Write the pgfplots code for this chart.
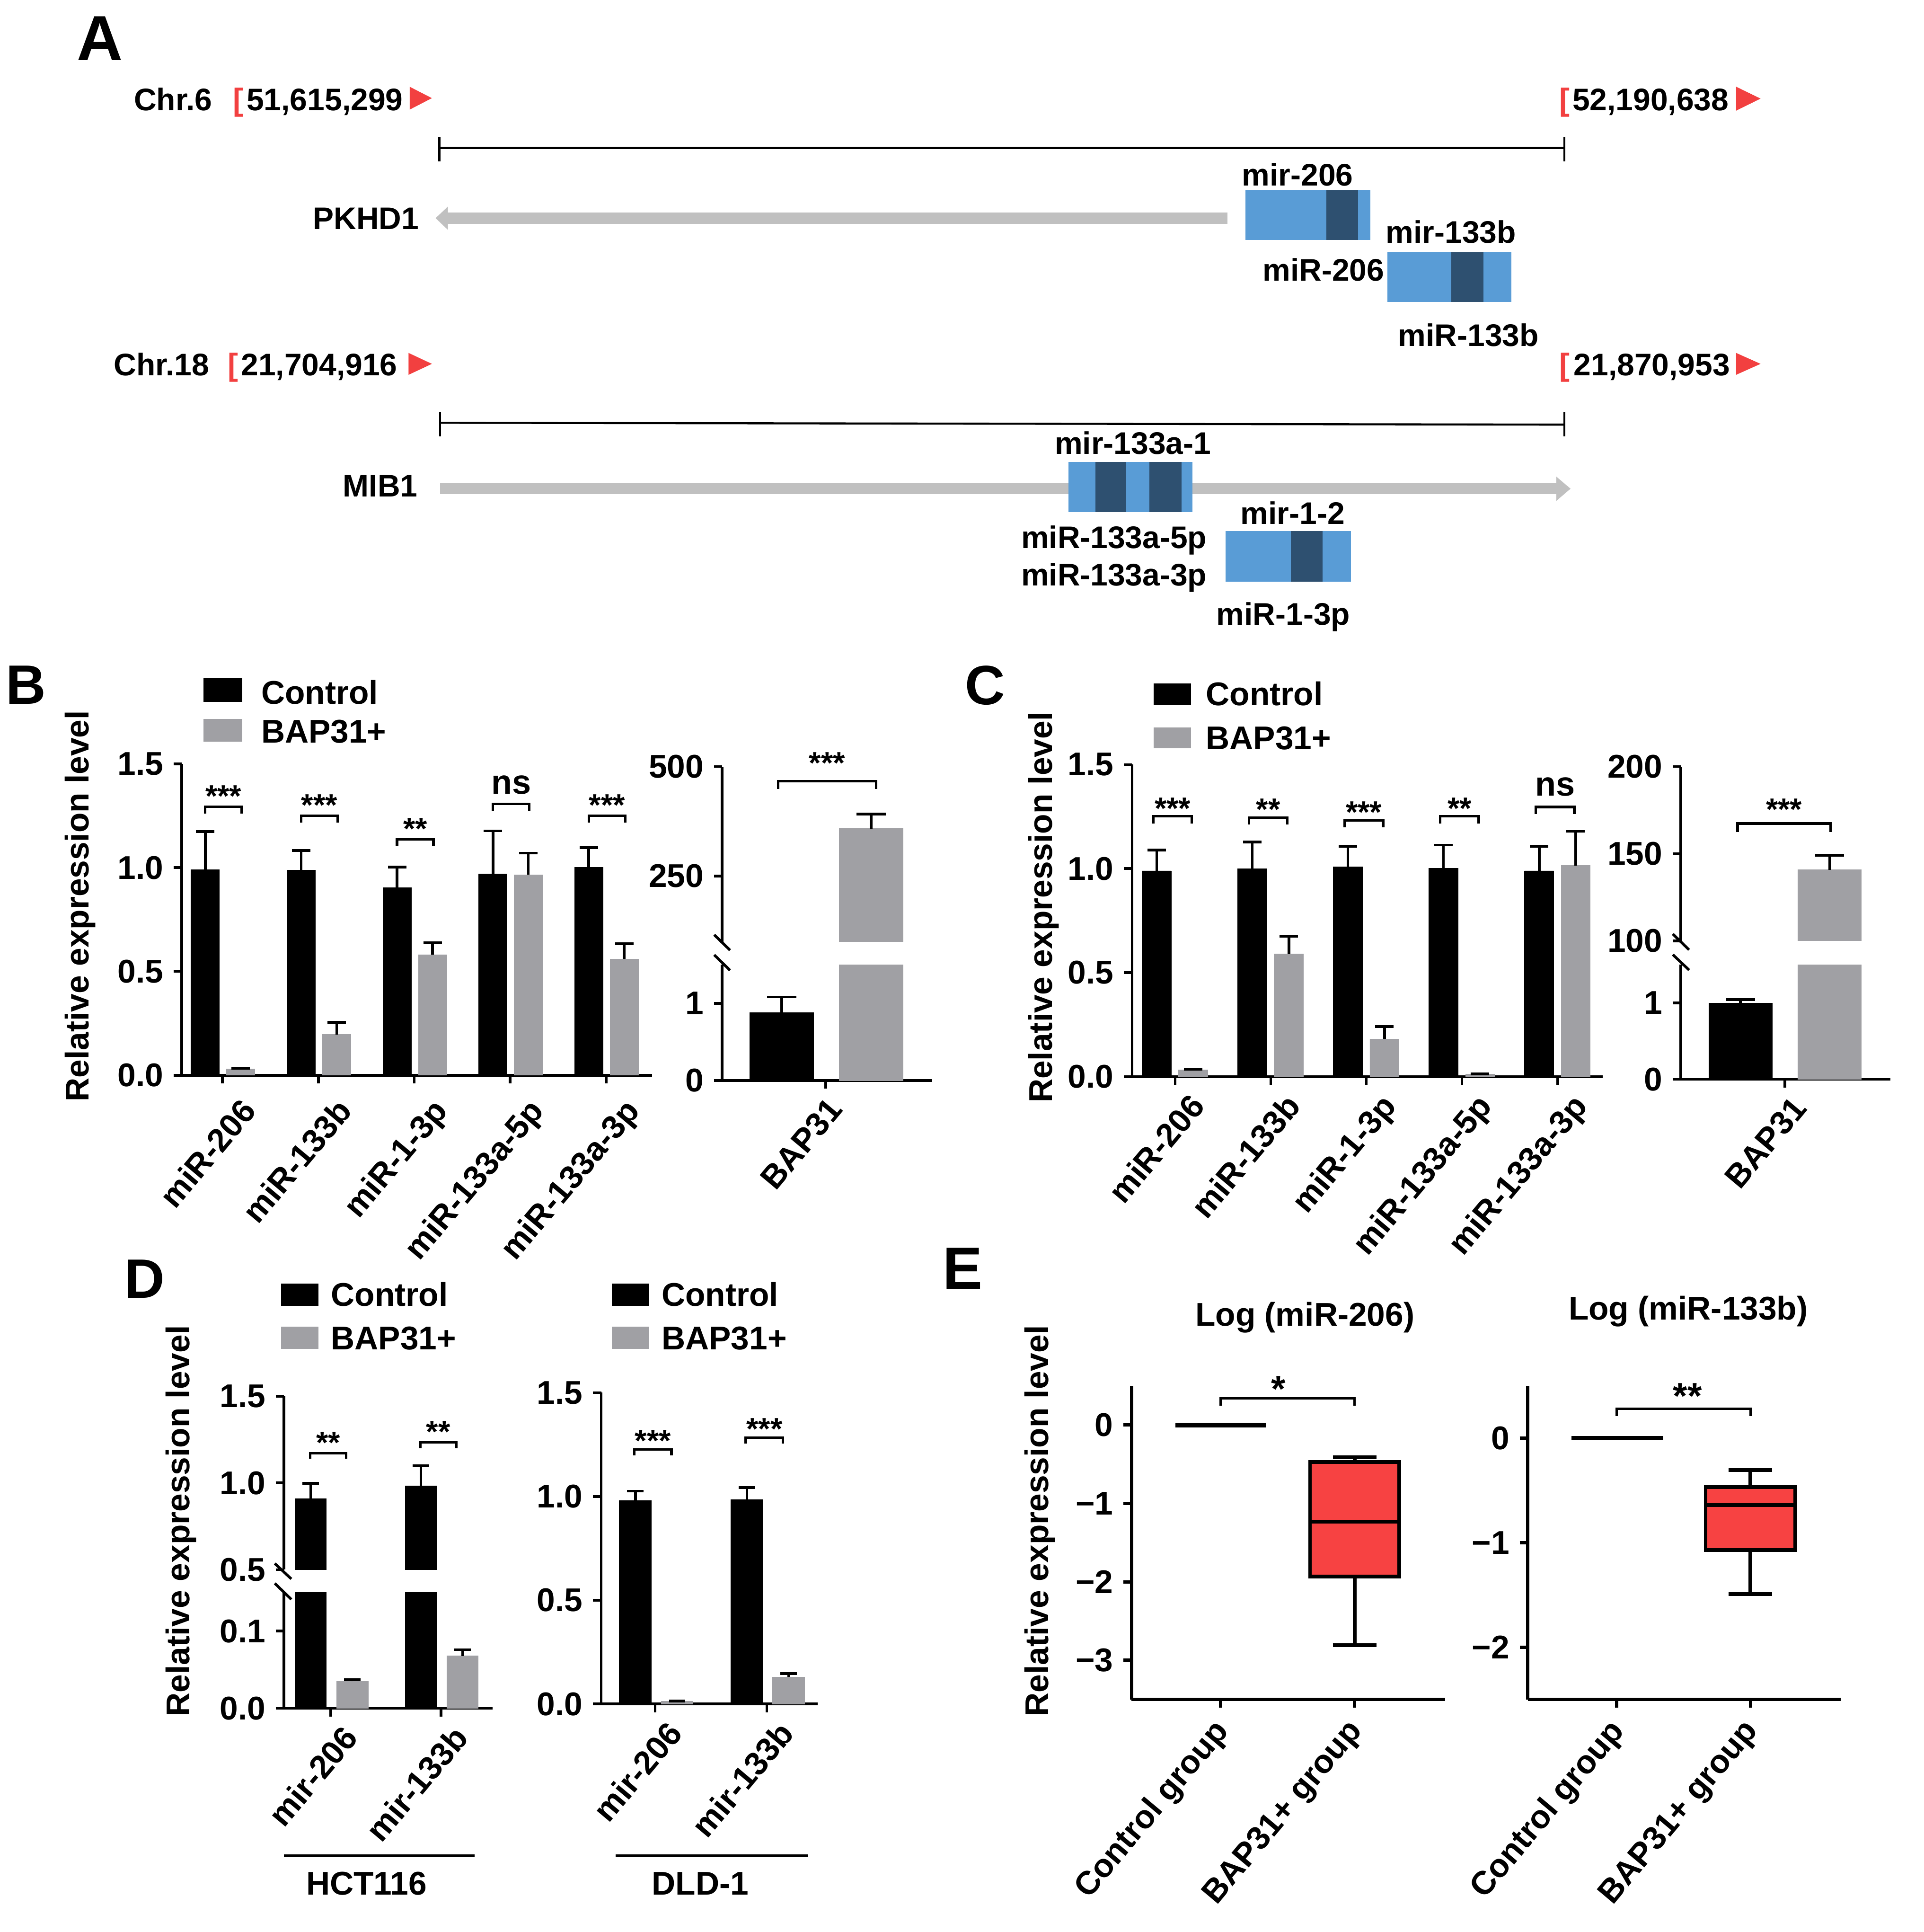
\documentclass[border=0pt]{standalone}
\usepackage{pgfplots}
\pgfplotsset{compat=1.18}
\usepgfplotslibrary{statistics}
\usepackage{fontspec}
\setmainfont{Liberation Sans}
\definecolor{bgray}{RGB}{160,160,164}
\definecolor{lblue}{RGB}{89,156,214}
\definecolor{dblue}{RGB}{46,80,112}
\definecolor{mred}{RGB}{242,64,64}
\definecolor{agray}{RGB}{192,192,192}
\definecolor{boxred}{RGB}{247,66,66}
\newcommand\fA{\fontsize{8}{9.6}\selectfont\bfseries}
\newcommand\fG{\fontsize{7.6}{9}\selectfont\bfseries}
\newcommand\fX{\fontsize{8}{9.6}\selectfont\bfseries}
\newcommand\fS{\fontsize{7.5}{9}\selectfont\bfseries}
\newcommand\fE{\fontsize{9}{10}\selectfont\bfseries}
\newcommand\fL[1]{\fontsize{#1}{#1}\selectfont\bfseries}
\pgfplotsset{
 gp/.style={scale only axis, clip mode=individual,
   axis x line=bottom, axis y line=left,
   axis line style={-, line width=0.65pt, black},
   every outer x axis line/.append style={-}, every outer y axis line/.append style={-},
   every inner x axis line/.append style={-}, every inner y axis line/.append style={-},
   tick align=outside, major tick length=2pt,
   tick style={line width=0.65pt, black},
   yticklabel style={font=\fA, inner sep=1pt, xshift=-1.3pt},
   xticklabel style={font=\fX, inner sep=1pt},
   minor tick num=0},
 xrot/.style 2 args={xticklabel style={xshift=#1, yshift=#2, rotate=50, anchor=north east}},
 gpup/.style={gp, axis x line=none},
 bars/.style n args={4}{#1, fill=#1, draw=#1, line width=0.1pt, bar width=#2, bar shift=#3,
   error bars/.cd, y dir=plus, y explicit,
   error bar style={black, line width=0.65pt},
   error mark options={rotate=90, black, line width=0.65pt, mark size=#4}}
}
% bracket: x1 x2 y ytip xm text yshift
\newcommand\sig[7]{%
 \draw[line width=0.6pt] (axis cs:#1,#4) -- (axis cs:#1,#3) -- (axis cs:#2,#3) -- (axis cs:#2,#4);
 \node[anchor=base, inner sep=0pt, font=\fS, yshift=#7] at (axis cs:#5,#3) {#6};}
\newcommand\ext{\draw[line width=0.65pt] (rel axis cs:0,0) -- ++(-2.2pt,0);}
\begin{document}
\begin{tikzpicture}
\path[use as bounding box] (0,0) rectangle (468.3pt,-470.25pt);
% ---------------- background axis: panel A, letters, legends, labels
\begin{axis}[at={(0,0)}, anchor=north west, scale only axis, width=468.3pt, height=470.25pt,
  xmin=0, xmax=1561, ymin=0, ymax=1567.5, y dir=reverse, hide axis, clip=false]
% letters
\node[anchor=base west, inner sep=0, font=\fL{15.5}] at (61.7,49) {A};
\node[anchor=base west, inner sep=0, font=\fL{13.5}] at (4,571) {B};
\node[anchor=base west, inner sep=0, font=\fL{13.5}] at (782.5,571.5) {C};
\node[anchor=base west, inner sep=0, font=\fL{13.5}] at (100.5,1053) {D};
\node[anchor=base west, inner sep=0, font=\fL{14.5}] at (764.5,1045.7) {E};
% scale bars
\draw[line width=0.5pt] (356.5,120) -- (1269.5,120);
\draw[line width=0.5pt] (356.5,111.5) -- (356.5,131);
\draw[line width=0.5pt] (1269.5,111.5) -- (1269.5,131);
\draw[line width=0.5pt] (357,343) -- (1269.5,344.5);
\draw[line width=0.5pt] (357,334.5) -- (357,354);
\draw[line width=0.5pt] (1269.5,334.5) -- (1269.5,354);
% gene arrows
\fill[agray] (363,172.5) rectangle (996,181.5);
\fill[agray] (353.5,177) -- (363.5,167.5) -- (363.5,186.5) -- cycle;
\fill[agray] (357,392) rectangle (1263,401);
\fill[agray] (1274.5,396.5) -- (1263,386.7) -- (1263,406.3) -- cycle;
% miRNA boxes
\fill[lblue] (1010.5,154.3) rectangle (1112,194.8);
\fill[dblue] (1076.3,154.3) rectangle (1102.2,194.8);
\fill[lblue] (1126,204.7) rectangle (1226.6,244.8);
\fill[dblue] (1177.8,204.7) rectangle (1203.7,244.8);
\fill[lblue] (867.2,374.8) rectangle (967.8,415.6);
\fill[dblue] (889.1,374.8) rectangle (914,415.6);
\fill[dblue] (932.9,374.8) rectangle (958.8,415.6);
\fill[lblue] (994.6,431) rectangle (1096.2,471.8);
\fill[dblue] (1047.4,431) rectangle (1073.3,471.8);
% red triangles
\fill[mred] (332.5,70.4) -- (350.5,79.6) -- (332.5,88.9) -- cycle;
\fill[mred] (1408.8,70.3) -- (1428.7,80) -- (1408.8,89.8) -- cycle;
\fill[mred] (331.5,286.3) -- (350.5,295.2) -- (331.5,304.1) -- cycle;
\fill[mred] (1408.8,286.3) -- (1428.7,295.2) -- (1408.8,304.1) -- cycle;
% panel A texts
\begin{scope}[every node/.style={inner sep=0pt, font=\fG}]
\node[anchor=base east] at (172.8,89.6) {Chr.6};
\node[anchor=base west, text=mred] at (188.6,89.6) {[};
\node[anchor=base west] at (199.5,89.6) {51,615,299};
\node[anchor=base west, text=mred] at (1264.6,89.6) {[};
\node[anchor=base west] at (1275.4,89.6) {52,190,638};
\node[anchor=base east] at (170.5,304.8) {Chr.18};
\node[anchor=base west, text=mred] at (184.1,304.8) {[};
\node[anchor=base west] at (195,304.8) {21,704,916};
\node[anchor=base west, text=mred] at (1264.6,304.8) {[};
\node[anchor=base west] at (1276.4,304.8) {21,870,953};
\node[anchor=base east] at (340.5,186) {PKHD1};
\node[anchor=base] at (1053,150.9) {mir-206};
\node[anchor=base west] at (1124,197.2) {mir-133b};
\node[anchor=base east] at (1124,228) {miR-206};
\node[anchor=base west] at (1134,281) {miR-133b};
\node[anchor=base east] at (339.5,402.9) {MIB1};
\node[anchor=base] at (919.4,368.6) {mir-133a-1};
\node[anchor=base] at (1049,425.2) {mir-1-2};
\node[anchor=base] at (904,445) {miR-133a-5p};
\node[anchor=base] at (904,475) {miR-133a-3p};
\node[anchor=base] at (1041.4,507) {miR-1-3p};
\end{scope}
\begin{scope}[every node/.style={inner sep=0pt, font=\fA}]
% legends
\node[anchor=base west] at (211.3,571) {Control};
\node[anchor=base west] at (211.3,602.8) {BAP31+};
\node[anchor=base west] at (978,572.5) {Control};
\node[anchor=base west] at (978,608.2) {BAP31+};
\node[anchor=base west] at (268,1059.8) {Control};
\node[anchor=base west] at (268,1095) {BAP31+};
\node[anchor=base west] at (536.3,1059.8) {Control};
\node[anchor=base west] at (536.3,1095) {BAP31+};
% y labels
\node[rotate=90] at (65,735) {Relative expression level};
\node[rotate=90] at (847,736) {Relative expression level};
\node[rotate=90] at (147,1234) {Relative expression level};
\node[rotate=90] at (844,1234) {Relative expression level};
% E titles
\node at (1059,1069) {Log (miR-206)};
\node at (1370,1064) {Log (miR-133b)};
% D groups
\node[anchor=base] at (297.4,1537.5) {HCT116};
\node[anchor=base] at (568.2,1537.5) {DLD-1};
\end{scope}
\fill[black] (165.3,550.3) rectangle (196.5,569.4);
\fill[bgray] (165.3,583.1) rectangle (196.5,601.8);
\fill[black] (936,554.4) rectangle (966.4,571.9);
\fill[bgray] (936,590.1) rectangle (966.4,607);
\fill[black] (228.1,1041.3) rectangle (258.6,1059.4);
\fill[bgray] (228.1,1076.3) rectangle (258.6,1094.5);
\fill[black] (496.5,1041.3) rectangle (527,1059.4);
\fill[bgray] (496.5,1076.3) rectangle (527,1094.5);
\draw[line width=0.6pt] (230.4,1505.5) -- (385.2,1505.5);
\draw[line width=0.6pt] (499.6,1505.5) -- (655.5,1505.5);
% break marks
\draw[line width=0.65pt] (579.6,758.4) -- (592.4,770.9);
\draw[line width=0.65pt] (579.6,774.7) -- (592.4,787.2);
\draw[line width=0.65pt] (1357.5,757.8) -- (1370.7,770.6);
\draw[line width=0.65pt] (1357.5,774.5) -- (1370.7,787);
\draw[line width=0.65pt] (223,1268.5) -- (236.4,1281);
\draw[line width=0.65pt] (223,1284.6) -- (236.4,1297.6);
\end{axis}
% ---------------- B left
\begin{axis}[gp, xrot={3.9pt}{-1.5pt}, ybar, at={(44.25pt,-261.72pt)}, anchor=south west, width=114.45pt, height=75.81pt,
  xmin=-0.4254, xmax=4.478, ymin=0, ymax=1.5, xtick={0,1,2,3,4},
  xticklabels={miR-206,miR-133b,miR-1-3p,miR-133a-5p,miR-133a-3p},
  ytick={0,0.5,1,1.5}, yticklabels={0.0,0.5,1.0,1.5}]
\addplot[bars={black}{0.296}{-0.18}{2.25pt}] coordinates {(0,0.990) +- (0,0.184) (1,0.987) +- (0,0.096) (2,0.904) +- (0,0.098) (3,0.970) +- (0,0.207) (4,1.002) +- (0,0.094)};
\addplot[bars={bgray}{0.296}{0.19}{2.25pt}] coordinates {(0,0.030) +- (0,0.004) (1,0.196) +- (0,0.059) (2,0.581) +- (0,0.057) (3,0.966) +- (0,0.104) (4,0.560) +- (0,0.074)};
\ext
\sig{-0.18}{0.2}{1.294}{1.26}{0.01}{***}{0pt}
\sig{0.82}{1.2}{1.250}{1.216}{1.01}{***}{0pt}
\sig{1.82}{2.2}{1.137}{1.103}{2.01}{**}{0pt}
\sig{2.82}{3.2}{1.307}{1.273}{3.01}{{\fontsize{8.3}{10}\selectfont ns}}{2.4pt}
\sig{3.82}{4.2}{1.250}{1.216}{4.01}{***}{0pt}
\end{axis}
% ---------------- B right (broken axis)
\begin{axis}[gpup, ybar, at={(175.8pt,-229.23pt)}, anchor=south west, width=51.12pt, height=42.66pt,
  xmin=-84.1, xmax=86.3, ymin=100, ymax=500, ytick={250,500}, yticklabels={250,500}]
\addplot[bars={bgray}{52}{36.8}{3.6pt}] coordinates {(0,358.5) +- (0,33.2)};
\sig{-38.6}{40.8}{466.8}{449}{1.1}{***}{1.8pt}
\end{axis}
\begin{axis}[gp, xrot={0pt}{0pt}, ybar, at={(175.8pt,-263.01pt)}, anchor=south west, width=51.12pt, height=28.2pt,
  xmin=-84.1, xmax=86.3, ymin=0, ymax=1.5, ytick={0,1}, yticklabels={0,1},
  xtick={0}, xticklabels={BAP31}]
\addplot[bars={black}{52}{-35.7}{3.6pt}] coordinates {(0,0.878) +- (0,0.205)};
\addplot[bars={bgray}{52}{36.8}{3.6pt}] coordinates {(0,358.5) +- (0,33.2)};
\ext
\end{axis}
% ---------------- C left
\begin{axis}[gp, xrot={3pt}{0pt}, ybar, at={(275.61pt,-262.05pt)}, anchor=south west, width=114.6pt, height=75.96pt,
  xmin=-0.45, xmax=4.473, ymin=0, ymax=1.5, xtick={0,1,2,3,4},
  xticklabels={miR-206,miR-133b,miR-1-3p,miR-133a-5p,miR-133a-3p},
  ytick={0,0.5,1,1.5}, yticklabels={0.0,0.5,1.0,1.5}]
\addplot[bars={black}{0.305}{-0.193}{2.25pt}] coordinates {(0,0.989) +- (0,0.100) (1,1.000) +- (0,0.128) (2,1.009) +- (0,0.099) (3,1.002) +- (0,0.111) (4,0.989) +- (0,0.119)};
\addplot[bars={bgray}{0.305}{0.189}{2.25pt}] coordinates {(0,0.032) +- (0,0.004) (1,0.589) +- (0,0.086) (2,0.181) +- (0,0.059) (3,0.011) +- (0,0.002) (4,1.015) +- (0,0.164)};
\ext
\sig{-0.228}{0.175}{1.251}{1.217}{-0.026}{***}{-0.6pt}
\sig{0.772}{1.175}{1.245}{1.211}{0.974}{**}{-0.6pt}
\sig{1.772}{2.175}{1.232}{1.198}{1.974}{***}{-0.6pt}
\sig{2.772}{3.175}{1.251}{1.217}{2.974}{**}{-0.6pt}
\sig{3.772}{4.175}{1.296}{1.262}{3.974}{{\fontsize{8.3}{10}\selectfont ns}}{2.7pt}
\end{axis}
% ---------------- C right (broken axis)
\begin{axis}[gpup, ybar, at={(409.2pt,-228.99pt)}, anchor=south west, width=51.06pt, height=42.42pt,
  xmin=-84.5, xmax=85.7, ymin=100, ymax=200, ytick={100,150,200}, yticklabels={100,150,200}]
\addplot[bars={bgray}{51.5}{36.2}{3.5pt}] coordinates {(0,140.7) +- (0,8.4)};
\sig{-38.5}{37}{167.3}{162.3}{-0.75}{***}{0.8pt}
\end{axis}
\begin{axis}[gp, xrot={1.2pt}{0pt}, ybar, at={(409.2pt,-262.71pt)}, anchor=south west, width=51.06pt, height=27.9pt,
  xmin=-84.5, xmax=85.7, ymin=0, ymax=1.5, ytick={0,1}, yticklabels={0,1},
  xtick={0}, xticklabels={BAP31}]
\addplot[bars={black}{51.5}{-36.1}{3.5pt}] coordinates {(0,1.0) +- (0,0.045)};
\addplot[bars={bgray}{51.5}{36.2}{3.5pt}] coordinates {(0,140.7) +- (0,8.4)};
\ext
\end{axis}
% ---------------- D1 HCT116 (broken axis)
\begin{axis}[gpup, ybar, at={(69.12pt,-382.05pt)}, anchor=south west, width=50.79pt, height=42.21pt,
  xmin=-38, xmax=131.3, ymin=0.5, ymax=1.5, ytick={0.5,1,1.5}, yticklabels={0.5,1.0,1.5}]
\addplot[bars={black}{25.5}{-16.3}{2pt}] coordinates {(0,0.910) +- (0,0.087) (89.4,0.982) +- (0,0.116)};
\sig{-16.8}{12.6}{1.172}{1.139}{-2.1}{**}{0pt}
\sig{72.6}{102}{1.233}{1.2}{87.3}{**}{0pt}
\end{axis}
\begin{axis}[gp, xrot={2.4pt}{0pt}, ybar, at={(69.12pt,-415.83pt)}, anchor=south west, width=50.79pt, height=28.23pt,
  xmin=-38, xmax=131.3, ymin=0, ymax=0.15, ytick={0,0.1}, yticklabels={0.0,0.1},
  xtick={0,89.4}, xticklabels={mir-206,mir-133b}]
\addplot[bars={black}{25.5}{-16.3}{2pt}] coordinates {(0,0.910) +- (0,0.087) (89.4,0.982) +- (0,0.116)};
\addplot[bars={bgray}{25.5}{17.6}{2pt}] coordinates {(0,0.035) +- (0,0.002) (89.4,0.068) +- (0,0.008)};
\ext
\end{axis}
% ---------------- D2 DLD-1
\begin{axis}[gp, xrot={2.4pt}{0pt}, ybar, at={(146.37pt,-414.75pt)}, anchor=south west, width=52.74pt, height=75.78pt,
  xmin=-43.8, xmax=132, ymin=0, ymax=1.5, ytick={0,0.5,1,1.5}, yticklabels={0.0,0.5,1.0,1.5},
  xtick={0,90.5}, xticklabels={mir-206,mir-133b}]
\addplot[bars={black}{26}{-16.1}{2pt}] coordinates {(0,0.981) +- (0,0.045) (90.5,0.985) +- (0,0.058)};
\addplot[bars={bgray}{26}{17.75}{2pt}] coordinates {(0,0.013) +- (0,0.002) (90.5,0.130) +- (0,0.017)};
\ext
\sig{-17}{13.2}{1.226}{1.198}{-1.9}{***}{-0.4pt}
\sig{73.5}{103.7}{1.283}{1.255}{88.6}{***}{-0.4pt}
\end{axis}
% ---------------- E1
\begin{axis}[gp, xrot={-2.4pt}{-0.5pt}, at={(275.49pt,-413.64pt)}, anchor=south west, width=76.29pt, height=76.32pt,
  axis line style={-, line width=0.8pt, black}, tick style={line width=0.8pt, black},
  xmin=-0.665, xmax=1.674, ymin=-3.5, ymax=0.5, ytick={-3,-2,-1,0}, yticklabels={−3,−2,−1,0},
  xtick={0,1}, xticklabels={Control group,BAP31+ group}]
\addplot[line width=1.1pt, black] coordinates {(-0.3375,0) (0.3375,0)};
\addplot[boxplot prepared={lower whisker=-2.81, lower quartile=-1.93, median=-1.23,
  upper quartile=-0.47, upper whisker=-0.41, draw position=1, box extend=0.666,
  whisker extend=0.326, draw direction=y}, fill=boxred, draw=black, line width=0.9pt] coordinates {};
\draw[line width=0.6pt] (axis cs:0,0.25) -- (axis cs:0,0.34) -- (axis cs:1,0.34) -- (axis cs:1,0.25);
\node[anchor=base, inner sep=0pt, font=\fE, yshift=-0.8pt] at (axis cs:0.43,0.34) {*};
\end{axis}
% ---------------- E2
\begin{axis}[gp, xrot={-2.4pt}{-0.5pt}, at={(371.97pt,-413.64pt)}, anchor=south west, width=76.17pt, height=76.32pt,
  axis line style={-, line width=0.8pt, black}, tick style={line width=0.8pt, black},
  xmin=-0.661, xmax=1.674, ymin=-2.5, ymax=0.5, ytick={-2,-1,0}, yticklabels={−2,−1,0},
  xtick={0,1}, xticklabels={Control group,BAP31+ group}]
\addplot[line width=1.1pt, black] coordinates {(-0.335,0) (0.35,0)};
\addplot[boxplot prepared={lower whisker=-1.49, lower quartile=-1.069, median=-0.641,
  upper quartile=-0.469, upper whisker=-0.306, draw position=1, box extend=0.67,
  whisker extend=0.325, draw direction=y}, fill=boxred, draw=black, line width=0.9pt] coordinates {};
\draw[line width=0.6pt] (axis cs:0,0.21) -- (axis cs:0,0.28) -- (axis cs:1,0.28) -- (axis cs:1,0.21);
\node[anchor=base, inner sep=0pt, font=\fE, yshift=0pt] at (axis cs:0.53,0.28) {**};
\end{axis}
\end{tikzpicture}
\end{document}
